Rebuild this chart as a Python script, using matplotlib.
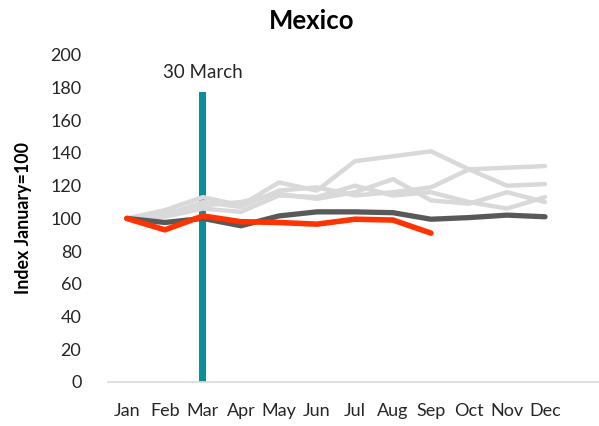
"""
Mexico monthly index, January = 100
"""

import matplotlib.pyplot as plt
import numpy as np

plt.rcParams['font.family'] = ['Lato', 'DejaVu Sans']

months = ['Jan', 'Feb', 'Mar', 'Apr', 'May', 'Jun',
          'Jul', 'Aug', 'Sep', 'Oct', 'Nov', 'Dec']

# previous years (light grey)
past_a = [100, 105, 113, 108, 122, 117, 135, 138, 141, 130, 120, 121]
past_b = [100, 102, 110, 107, 117, 119, 114, 116, 119, 130, 131, 132]
past_c = [100, 101, 106, 104, 114, 113, 120, 114, 116, 110, 106, 113]
past_d = [100, 103, 108, 110, 115, 112, 116, 124, 111, 109, 116, 110]

# average of previous years
average = [100, 97.5, 100, 95.5, 101.5, 104, 104, 103.5, 99.5, 100.5, 102, 101]

# current year, up to September
current = [100, 93, 101.5, 98, 97.5, 96.5, 99.5, 99, 91]

lockdown_month = 2
lockdown_value = 177
lockdown_label = '30 March'

col_past = '#d9d9d9'
col_avg = '#595959'
col_cur = '#ff3300'
col_bar = '#0a8f99'

fig = plt.figure(figsize=(5.99, 4.26), dpi=100)
ax = fig.add_axes([0.180, 0.1033, 0.820, 0.768])

x = np.arange(len(months))

ax.bar([lockdown_month], [lockdown_value], width=0.18, color=col_bar, zorder=1)
ax.text(lockdown_month, 189.5, lockdown_label, ha='center', va='center',
        fontsize=13.5, color='#262626')

for s in [past_a, past_b, past_c, past_d]:
    ax.plot(x, s, color=col_past, lw=3.2, solid_capstyle='round',
            solid_joinstyle='round', zorder=2)
ax.plot(x, average, color=col_avg, lw=3.8, solid_capstyle='round',
        solid_joinstyle='round', zorder=3)
ax.plot(x[:len(current)], current, color=col_cur, lw=4.0,
        solid_capstyle='round', solid_joinstyle='round', zorder=4)

ax.set_xlim(-0.5, 12.42)
ax.set_ylim(0, 200)
ax.set_yticks(np.arange(0, 201, 20))
ax.set_xticks(x)
ax.set_xticklabels(months)

for side in ['top', 'right', 'left']:
    ax.spines[side].set_visible(False)
ax.spines['bottom'].set_color('#d9d9d9')
ax.spines['bottom'].set_linewidth(1.2)
ax.tick_params(axis='both', length=0, labelsize=13, colors='#262626')
ax.tick_params(axis='y', pad=19)
ax.tick_params(axis='x', pad=15)

ax.set_ylabel('Index January=100', fontsize=12.8, fontweight='bold', labelpad=13)
fig.text(0.52, 0.95, 'Mexico', ha='center', va='center',
         fontsize=18.5, fontweight='bold')

fig.savefig('out.png', dpi=100)
